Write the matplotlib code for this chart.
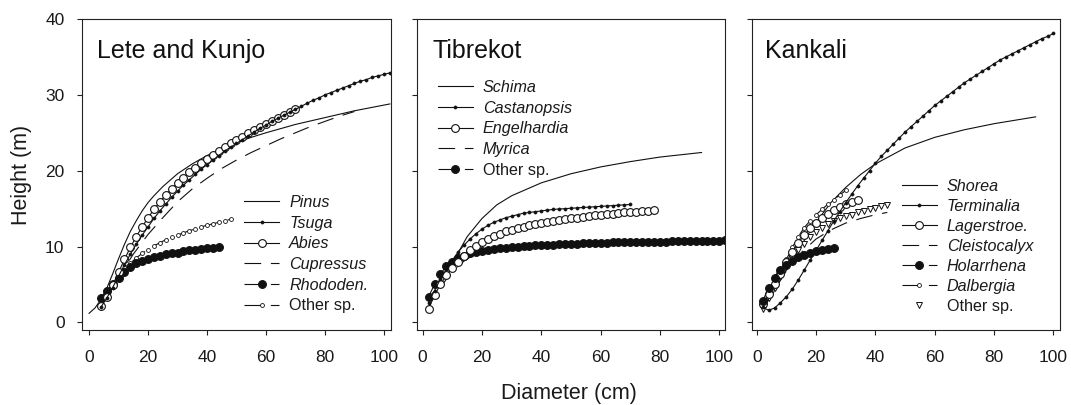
import matplotlib
matplotlib.use("Agg")
import matplotlib.pyplot as plt
from matplotlib.lines import Line2D

plt.rcParams['font.family'] = ['Liberation Sans', 'DejaVu Sans']
plt.rcParams['lines.scale_dashes'] = False

# ---------------- Panel 1: Lete and Kunjo ----------------
pinus_d = [0, 2, 4, 6, 8, 10, 12, 14, 16, 18, 20, 22, 25, 30, 35, 40, 45, 50, 55, 60, 70, 80, 90, 102]
pinus_h = [1.2, 1.9, 3.0, 4.5, 6.4, 8.4, 10.3, 12.0, 13.4, 14.7, 15.8, 16.7, 17.9, 19.6, 20.9, 22.0, 22.9, 23.7, 24.4, 25.0, 26.1, 27.0, 27.9, 28.8]

tsuga_d = list(range(4, 103, 2))
tsuga_h = [2.0, 3.2, 4.6, 6.1, 7.6, 9.0, 10.3, 11.5, 12.6, 13.7, 14.7, 15.6, 16.5, 17.3, 18.1, 18.8, 19.5, 20.2, 20.8, 21.4,
           22.0, 22.6, 23.1, 23.6, 24.1, 24.6, 25.1, 25.6, 26.0, 26.5, 26.9, 27.3, 27.7, 28.1, 28.5, 28.9, 29.3, 29.6, 30.0, 30.3,
           30.6, 30.9, 31.2, 31.5, 31.8, 32.0, 32.3, 32.5, 32.7, 32.9]

abies_d = list(range(4, 71, 2))
abies_h = [2.2, 3.4, 4.9, 6.6, 8.3, 9.9, 11.3, 12.6, 13.8, 14.9, 15.9, 16.8, 17.6, 18.4, 19.1, 19.8, 20.4, 21.0, 21.6, 22.1,
           22.6, 23.1, 23.6, 24.1, 24.5, 25.0, 25.4, 25.8, 26.2, 26.6, 27.0, 27.4, 27.8, 28.2]

cupressus_d = [4, 7, 10, 15, 20, 25, 30, 35, 40, 45, 50, 55, 60, 65, 70, 75, 80, 85, 90]
cupressus_h = [2.3, 4.0, 6.0, 9.0, 11.6, 13.8, 15.9, 17.6, 19.0, 20.3, 21.4, 22.4, 23.3, 24.2, 25.0, 25.8, 26.5, 27.2, 27.8]

rhodo_d = list(range(4, 45, 2))
rhodo_h = [3.2, 4.2, 5.1, 5.9, 6.7, 7.3, 7.8, 8.1, 8.4, 8.6, 8.8, 9.0, 9.1, 9.2, 9.4, 9.5, 9.6, 9.7, 9.8, 9.85, 9.9]

other1_d = list(range(4, 49, 2))
other1_h = [2.4, 3.6, 4.8, 5.9, 6.9, 7.8, 8.5, 9.1, 9.6, 10.1, 10.5, 10.9, 11.2, 11.5, 11.8, 12.1, 12.3, 12.6, 12.8, 13.0,
            13.2, 13.4, 13.6]

# ---------------- Panel 2: Tibrekot ----------------
schima_d = [8, 10, 12, 15, 20, 25, 30, 40, 50, 60, 70, 80, 94]
schima_h = [6.0, 7.6, 9.2, 11.3, 13.7, 15.5, 16.7, 18.4, 19.6, 20.5, 21.2, 21.8, 22.4]

castan_d = list(range(2, 71, 2))
castan_h = [2.6, 4.2, 5.7, 7.0, 8.2, 9.3, 10.2, 11.0, 11.7, 12.3, 12.8, 13.2, 13.5, 13.8, 14.0, 14.2, 14.4, 14.5, 14.6, 14.7,
            14.8, 14.9, 14.95, 15.0, 15.05, 15.1, 15.15, 15.2, 15.25, 15.3, 15.35, 15.4, 15.45, 15.5, 15.55]

engel_d = list(range(2, 79, 2))
engel_h = [1.8, 3.6, 5.0, 6.2, 7.2, 8.0, 8.8, 9.5, 10.1, 10.6, 11.0, 11.4, 11.7, 12.0, 12.2, 12.4, 12.6, 12.8, 13.0, 13.1,
           13.3, 13.4, 13.5, 13.6, 13.7, 13.8, 13.9, 14.0, 14.1, 14.2, 14.3, 14.35, 14.4, 14.5, 14.55, 14.6, 14.7, 14.75, 14.8]

myrica_d = [6, 8, 10, 12, 14, 16, 18, 20, 25, 30, 35]
myrica_h = [4.6, 5.7, 6.6, 7.4, 8.1, 8.6, 9.0, 9.3, 9.8, 10.0, 10.1]

other2_d = list(range(2, 103, 2))
other2_h = [3.4, 5.0, 6.4, 7.4, 8.0, 8.5, 8.8, 9.1, 9.3, 9.45, 9.6, 9.7, 9.8, 9.85, 9.95, 10.0, 10.05, 10.1, 10.15, 10.2,
            10.23, 10.26, 10.29, 10.32, 10.35, 10.38, 10.41, 10.44, 10.47, 10.5, 10.52, 10.54, 10.56, 10.58, 10.6, 10.61,
            10.62, 10.63, 10.64, 10.65, 10.66, 10.67, 10.68, 10.69, 10.7, 10.72, 10.74, 10.76, 10.77, 10.78, 10.8]

# ---------------- Panel 3: Kankali ----------------
shorea_d = [2, 5, 10, 15, 20, 25, 30, 35, 40, 50, 60, 70, 80, 94]
shorea_h = [1.8, 3.5, 7.0, 10.2, 13.2, 15.8, 17.8, 19.5, 20.9, 23.0, 24.4, 25.4, 26.2, 27.1]

termin_d = list(range(2, 101, 2))
termin_h = [2.0, 1.6, 1.9, 2.6, 3.4, 4.4, 5.6, 6.9, 8.2, 9.5, 10.8, 12.1, 13.4, 14.6, 15.8, 16.9, 18.0, 19.0, 20.0, 21.0,
            21.9, 22.7, 23.5, 24.3, 25.1, 25.8, 26.5, 27.2, 27.9, 28.6, 29.2, 29.8, 30.4, 31.0, 31.6, 32.1, 32.6, 33.1,
            33.6, 34.1, 34.6, 35.0, 35.4, 35.8, 36.2, 36.6, 37.0, 37.4, 37.7, 38.1]

lager_d = list(range(2, 35, 2))
lager_h = [2.4, 3.7, 5.0, 6.4, 8.0, 9.3, 10.5, 11.5, 12.4, 13.1, 13.7, 14.3, 14.8, 15.2, 15.6, 15.9, 16.2]

cleisto_d = [2, 5, 10, 15, 20, 25, 30, 35, 40, 44]
cleisto_h = [2.0, 3.8, 6.8, 9.2, 11.0, 12.2, 13.1, 13.7, 14.2, 14.5]

holar_d = list(range(2, 27, 2))
holar_h = [2.8, 4.6, 5.9, 6.9, 7.6, 8.1, 8.6, 8.9, 9.2, 9.4, 9.6, 9.7, 9.8]

dalb_d = list(range(2, 31, 2))
dalb_h = [2.3, 3.8, 5.3, 6.8, 8.3, 9.9, 11.3, 12.5, 13.4, 14.2, 14.9, 15.6, 16.2, 16.8, 17.4]

other3_d = list(range(2, 45, 2))
other3_h = [1.8, 3.2, 4.6, 6.0, 7.3, 8.5, 9.5, 10.4, 11.2, 11.9, 12.5, 13.0, 13.4, 13.7, 14.0, 14.2, 14.5, 14.7, 14.9,
            15.1, 15.3, 15.5]

panel_titles = ["Lete and Kunjo", "Tibrekot", "Kankali"]
x_ticks = [0, 20, 40, 60, 80, 100]
y_ticks = [0, 10, 20, 30, 40]

# ---------------- styles ----------------
K = '#111111'
LW = 0.8
LD = (12, 7)  # long dash
BIGF = dict(marker='o', ms=5.6, mfc=K, mec=K, mew=0.8)
BIGO = dict(marker='o', ms=5.6, mfc='white', mec=K, mew=0.8)
DOT = dict(marker='o', ms=2.3, mfc=K, mec=K, mew=0.4)
SMO = dict(marker='o', ms=2.8, mfc='white', mec=K, mew=0.6)
TRI = dict(marker='v', ms=4.6, mfc='white', mec=K, mew=0.7)

fig = plt.figure(figsize=(10.71, 4.05), dpi=100)
W, H = 1071.0, 405.0
bottom = 75 / H
height = 311 / H
lefts = [82, 417, 752]
widths = [309, 308, 308]
xlims = [(-2.4, 102.4), (-1.9, 101.9), (-1.6, 102.2)]
title_x = [0.047, 0.049, 0.042]
axes = []
for i in range(3):
    ax = fig.add_axes([lefts[i] / W, bottom, widths[i] / W, height])
    ax.set_xlim(*xlims[i])
    ax.set_ylim(-1.0, 40.0)
    ax.set_xticks(x_ticks)
    ax.set_yticks(y_ticks)
    ax.tick_params(direction='out', length=3.6, width=0.8, labelsize=12.5, color='#222222', labelcolor='#1a1a1a')
    ax.tick_params(axis='x', pad=11)
    ax.tick_params(axis='y', pad=9)
    if i > 0:
        ax.set_yticklabels([])
    for s in ax.spines.values():
        s.set_linewidth(0.8)
        s.set_color('#222222')
    ax.text(title_x[i], 0.8746, panel_titles[i], transform=ax.transAxes, fontsize=18,
            ha='left', va='baseline', color='#111111')
    axes.append(ax)

def line(ax, d, h, dashes=None, **kw):
    style = dict(color=K, lw=LW)
    style.update(kw)
    ln, = ax.plot(d, h, **style)
    if dashes is not None:
        ln.set_dashes(dashes)
    return ln

def handle(dashes=None, **kw):
    style = dict(color=K, lw=LW)
    style.update(kw)
    h = Line2D([], [], **style)
    if dashes is not None:
        h.set_dashes(dashes)
    return h

def add_legend(ax, handles, labels, anchor, spacing=0.35):
    leg = ax.legend(handles, labels, loc='upper left', bbox_to_anchor=anchor, frameon=False,
                    fontsize=11.6, handlelength=2.17, handletextpad=0.62, labelspacing=spacing,
                    borderpad=0, borderaxespad=0, numpoints=1)
    for t in leg.get_texts():
        t.set_color('#1a1a1a')
        if t.get_text() != 'Other sp.':
            t.set_style('italic')
    return leg

# Panel 1
ax = axes[0]
line(ax, pinus_d, pinus_h)
line(ax, cupressus_d, cupressus_h, dashes=LD)
line(ax, other1_d, other1_h, dashes=LD, **SMO)
line(ax, rhodo_d, rhodo_h, dashes=LD, **BIGF)
line(ax, abies_d, abies_h, **BIGO)
line(ax, tsuga_d, tsuga_h, **DOT)
add_legend(ax,
           [handle(), handle(**DOT), handle(**BIGO), handle(dashes=LD), handle(dashes=LD, **BIGF),
            handle(dashes=LD, **SMO)],
           ['Pinus', 'Tsuga', 'Abies', 'Cupressus', 'Rhododen.', 'Other sp.'],
           (0.525, 0.434))

# Panel 2
ax = axes[1]
line(ax, schima_d, schima_h)
line(ax, myrica_d, myrica_h, dashes=LD)
line(ax, other2_d, other2_h, dashes=LD, **BIGF)
line(ax, engel_d, engel_h, **BIGO)
line(ax, castan_d, castan_h, **DOT)
add_legend(ax,
           [handle(), handle(**DOT), handle(**BIGO), handle(dashes=LD), handle(dashes=LD, **BIGF)],
           ['Schima', 'Castanopsis', 'Engelhardia', 'Myrica', 'Other sp.'],
           (0.068, 0.804))

# Panel 3
ax = axes[2]
line(ax, shorea_d, shorea_h)
line(ax, cleisto_d, cleisto_h, dashes=LD)
line(ax, other3_d, other3_h, ls='none', **TRI)
line(ax, dalb_d, dalb_h, dashes=LD, **SMO)
line(ax, lager_d, lager_h, **BIGO)
line(ax, holar_d, holar_h, dashes=LD, **BIGF)
line(ax, termin_d, termin_h, **DOT)
add_legend(ax,
           [handle(), handle(**DOT), handle(**BIGO), handle(dashes=LD), handle(dashes=LD, **BIGF),
            handle(dashes=LD, **SMO), handle(ls='none', **TRI)],
           ['Shorea', 'Terminalia', 'Lagerstroe.', 'Cleistocalyx', 'Holarrhena', 'Dalbergia', 'Other sp.'],
           (0.487, 0.486), spacing=0.31)

fig.text(22 / W, 1 - 175 / H, 'Height (m)', rotation=90, ha='center', va='center', fontsize=15.5, color='#1a1a1a')
fig.text(569 / W, 1 - 394 / H, 'Diameter (cm)', ha='center', va='center', fontsize=15.5, color='#1a1a1a')

fig.savefig('out.png', dpi=100)
